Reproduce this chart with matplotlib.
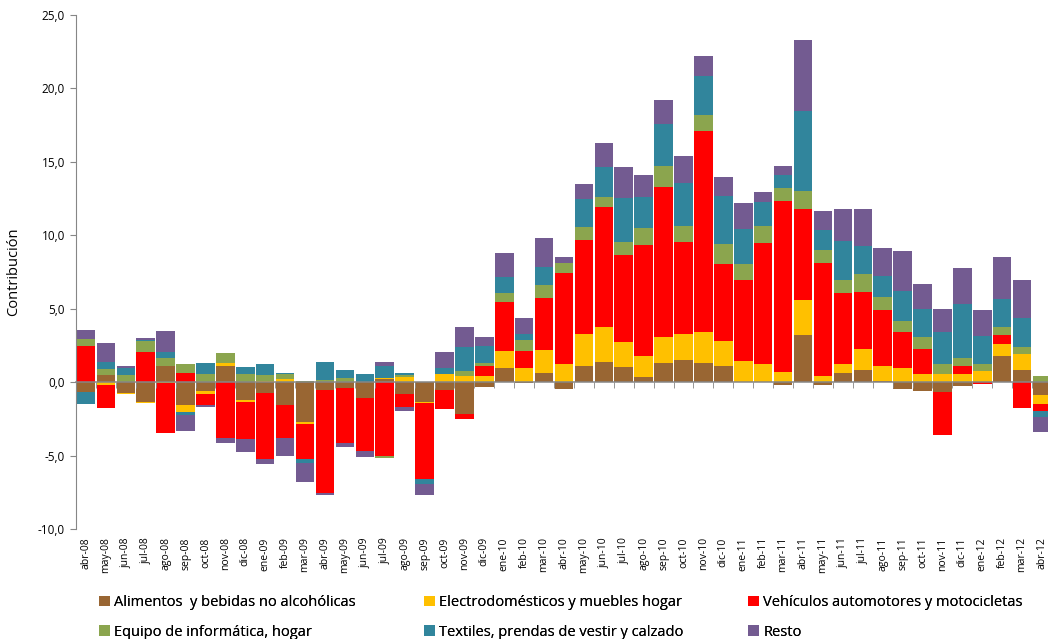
#importing libraries
import numpy as np
import matplotlib
matplotlib.use("Agg")
import matplotlib.pyplot as plt
from matplotlib.ticker import FuncFormatter, FixedLocator

plt.rcParams['font.family'] = ['Open Sans', 'DejaVu Sans']

#data
meses = ['abr-08', 'may-08', 'jun-08', 'jul-08', 'ago-08', 'sep-08', 'oct-08', 'nov-08', 'dic-08',
         'ene-09', 'feb-09', 'mar-09', 'abr-09', 'may-09', 'jun-09', 'jul-09', 'ago-09', 'sep-09',
         'oct-09', 'nov-09', 'dic-09', 'ene-10', 'feb-10', 'mar-10', 'abr-10', 'may-10', 'jun-10',
         'jul-10', 'ago-10', 'sep-10', 'oct-10', 'nov-10', 'dic-10', 'ene-11', 'feb-11', 'mar-11',
         'abr-11', 'may-11', 'jun-11', 'jul-11', 'ago-11', 'sep-11', 'oct-11', 'nov-11', 'dic-11',
         'ene-12', 'feb-12', 'mar-12', 'abr-12']

alimentos = [-0.66, 0.50, -0.73, -1.32, 1.11, -1.55, -0.59, 1.11, -1.20,
             -0.73, -1.55, -2.70, -0.52, -0.39, -1.07, 0.23, -0.80, -1.34,
             -0.52, -2.16, -0.32, 0.98, -0.09, 0.64, -0.45, 1.11, 1.39,
             1.05, 0.36, 1.32, 1.52, 1.32, 1.11, 0.00, 0.00, -0.18,
             3.20, -0.18, 0.64, 0.84, 0.09, -0.45, -0.59, -0.66, -0.25,
             0.00, 1.80, 0.84, -0.86]
electro = [0.00, -0.18, -0.07, -0.07, -0.05, -0.48, -0.20, 0.20, -0.14,
           0.09, 0.23, -0.14, 0.00, 0.00, 0.00, 0.07, 0.36, -0.07,
           0.57, 0.43, 0.43, 1.11, 0.98, 1.54, 1.25, 2.16, 2.36,
           1.67, 1.41, 1.75, 1.75, 2.09, 1.68, 1.45, 1.23, 0.70,
           2.39, 0.43, 0.61, 1.43, 1.02, 0.98, 0.57, 0.57, 0.57,
           0.77, 0.82, 1.09, -0.61]
vehiculos = [2.48, -1.57, 0.00, 2.07, -3.39, 0.64, -0.75, -3.80, -2.52,
             -4.50, -2.25, -2.39, -7.02, -3.75, -3.61, -5.02, -0.89, -5.18,
             -1.30, -0.34, 0.68, 3.34, 1.16, 3.54, 6.18, 6.40, 8.17,
             5.93, 7.56, 10.21, 6.27, 13.69, 5.25, 5.52, 8.24, 11.63,
             6.19, 7.67, 4.80, 3.86, 3.82, 2.45, 1.70, -2.93, 0.55,
             -0.11, 0.61, -1.75, -0.48]
equipo = [0.48, 0.41, 0.50, 0.75, 0.55, 0.61, 0.57, 0.68, 0.57,
          0.41, 0.34, 0.09, 0.16, 0.30, 0.00, -0.14, 0.14, 0.00,
          0.00, 0.34, 0.20, 0.61, 0.75, 0.88, 0.68, 0.89, 0.68,
          0.89, 1.16, 1.43, 1.09, 1.09, 1.36, 1.09, 1.16, 0.89,
          1.22, 0.90, 0.89, 1.23, 0.89, 0.75, 0.82, 0.68, 0.55,
          0.48, 0.55, 0.48, 0.43]
textiles = [-0.80, 0.48, 0.45, 0.05, 0.39, -0.20, 0.75, 0.00, 0.48,
            0.75, 0.07, -0.27, 1.23, 0.55, 0.57, 0.82, 0.14, -0.34,
            0.41, 1.64, 1.16, 1.09, 0.41, 1.23, 0.00, 1.91, 2.05,
            2.99, 2.11, 2.86, 2.93, 2.65, 3.27, 2.39, 1.63, 0.88,
            5.46, 1.35, 2.65, 1.90, 1.43, 2.05, 1.91, 2.18, 3.68,
            1.91, 1.91, 1.98, -0.41]
resto = [0.61, 1.30, 0.16, 0.14, 1.45, -1.09, -0.14, -0.34, -0.89,
         -0.34, -1.23, -1.30, -0.14, -0.27, -0.41, 0.27, -0.27, -0.75,
         1.09, 1.36, 0.61, 1.64, 1.09, 1.98, 0.40, 1.02, 1.63,
         2.12, 1.50, 1.63, 1.84, 1.36, 1.29, 1.77, 0.68, 0.61,
         4.84, 1.30, 2.18, 2.52, 1.91, 2.73, 1.70, 1.57, 2.45,
         1.77, 2.80, 2.59, -1.02]

nombres = ['Alimentos  y bebidas no alcohólicas', 'Electrodomésticos y muebles hogar',
           'Vehículos automotores y motocicletas', 'Equipo de informática, hogar',
           'Textiles, prendas de vestir y calzado', 'Resto']
colores = ['#996633', '#FFC000', '#FF0000', '#8BA54E', '#31859C', '#735B91']

series = [alimentos, electro, vehiculos, equipo, textiles, resto]

#plotting
fig = plt.figure(figsize=(10.48, 6.39), dpi=100)
ax = fig.add_axes([76/1048, 1-529/639, 976/1048, 514/639])
x = np.arange(len(meses))
pos = np.zeros(len(meses))
neg = np.zeros(len(meses))
handles = []
for vals, nom, col in zip(series, nombres, colores):
    v = np.array(vals)
    base = np.where(v >= 0, pos, neg)
    b = ax.bar(x, v, width=0.93, bottom=base, color=col, label=nom, linewidth=0)
    handles.append(b)
    pos = pos + np.where(v >= 0, v, 0)
    neg = neg + np.where(v < 0, v, 0)

ax.set_xlim(-0.5, len(meses) - 0.5)
ax.set_ylim(-10, 25)
ax.set_yticks(np.arange(-10, 26, 5))
ax.yaxis.set_major_formatter(FuncFormatter(lambda v, p: ('%.1f' % v).replace('.', ',')))
ax.tick_params(axis='y', labelsize=8.5, length=4, color='#868686', pad=4)
ax.set_ylabel('Contribución', fontsize=10.5, labelpad=12)

for s in ['top', 'right']:
    ax.spines[s].set_visible(False)
ax.spines['left'].set_color('#868686')
ax.spines['bottom'].set_position(('data', 0))
ax.spines['bottom'].set_color('#868686')
ax.spines['bottom'].set_linewidth(1.1)
ax.set_xticks(x)
ax.tick_params(axis='x', which='major', length=0, labelbottom=False)
ax.xaxis.set_minor_locator(FixedLocator(x[:-1] + 0.5))
ax.tick_params(axis='x', which='minor', length=4, color='#868686', direction='out')

sec = ax.secondary_xaxis('bottom')
sec.set_xticks(x)
sec.set_xticklabels(meses, rotation=90, fontsize=7.5)
sec.tick_params(length=0, pad=6)
sec.spines['bottom'].set_visible(False)

# legend: 3 columns, filled row by row
col_x = [99, 424, 748]
for j in range(3):
    idx = [j, j + 3]
    leg = fig.legend(handles=[handles[i] for i in idx], labels=[nombres[i] for i in idx],
                     loc='upper left', bbox_to_anchor=(col_x[j] / 1048, 1 - 595 / 639),
                     frameon=False, fontsize=10.5, handlelength=0.75, handleheight=0.75,
                     handletextpad=0.3, labelspacing=1.0, borderpad=0, borderaxespad=0)
    fig.add_artist(leg)

plt.savefig('out.png', dpi=100)
